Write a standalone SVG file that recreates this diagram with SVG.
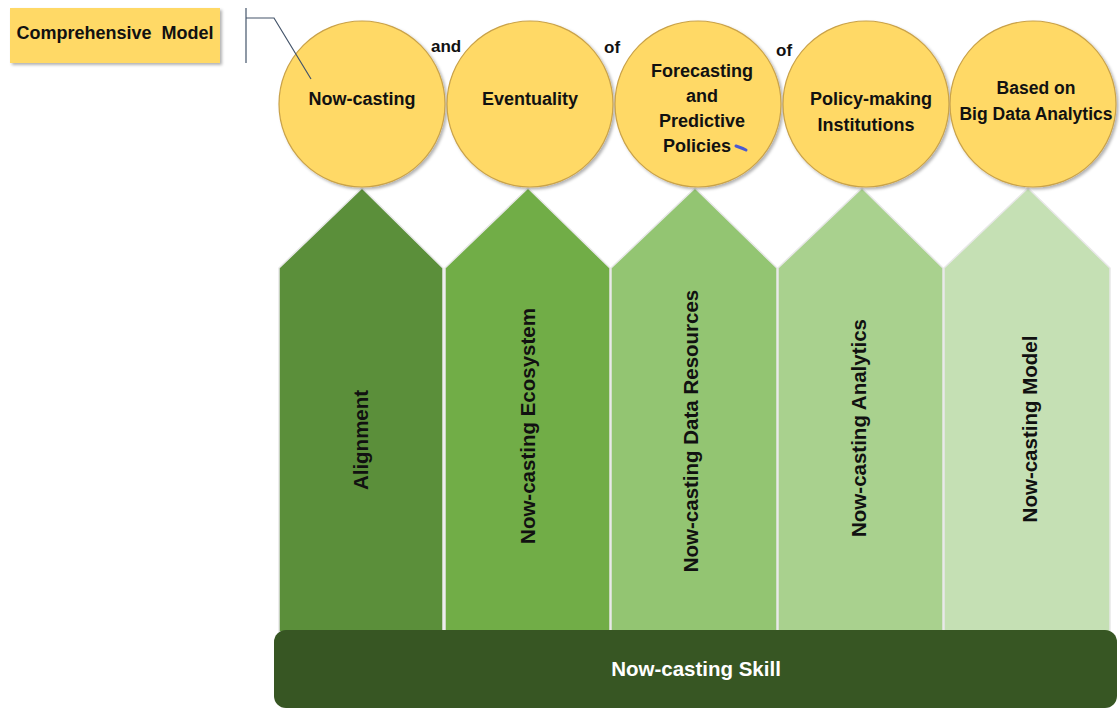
<svg xmlns="http://www.w3.org/2000/svg" width="1120" height="710" viewBox="0 0 1120 710">
  <defs>
    <filter id="shadow" x="-10%" y="-10%" width="130%" height="130%">
      <feDropShadow dx="2" dy="2" stdDeviation="1.5" flood-color="#000" flood-opacity="0.3"/>
    </filter>
    <style>
      .lbl { font-family: "Liberation Sans", Arial, sans-serif; font-weight: bold; fill: #111; text-anchor: middle; }
      .circ { fill: #ffd966; stroke: #c9a24a; stroke-width: 1.2; filter: url(#shadow); }
      .col { stroke: #e8e8e8; stroke-width: 1.5; }
      .vert { font-family: "Liberation Sans", Arial, sans-serif; font-weight: bold; font-size: 20.5px; fill: #111; text-anchor: middle; }
      .link { font-family: "Liberation Sans", Arial, sans-serif; font-weight: bold; font-size: 17px; fill: #111; }
    </style>
  </defs>
  <rect width="1120" height="710" fill="#fff"/>

  <!-- title box -->
  <g id="title">
    <rect x="10" y="8" width="210" height="55" fill="#ffd966" filter="url(#shadow)"/>
    <text class="lbl" x="115" y="39" font-size="18" style="white-space:pre">Comprehensive  Model</text>
  </g>

  <!-- pillars -->
  <g id="pillar-1">
    <polygon class="col" points="279,268 362,188 443,268 443,632 279,632" fill="#5b8f3a"/>
    <text class="vert" transform="translate(368,440) rotate(-90)">Alignment</text>
  </g>
  <g id="pillar-2">
    <polygon class="col" points="445,268 528,188 610,268 610,632 445,632" fill="#71ad47"/>
    <text class="vert" transform="translate(535,426) rotate(-90)">Now-casting Ecosystem</text>
  </g>
  <g id="pillar-3">
    <polygon class="col" points="611,268 695,188 777,268 777,632 611,632" fill="#93c572"/>
    <text class="vert" transform="translate(698,431) rotate(-90)">Now-casting Data Resources</text>
  </g>
  <g id="pillar-4">
    <polygon class="col" points="778,268 862,188 943,268 943,632 778,632" fill="#a9d18e"/>
    <text class="vert" transform="translate(866,428) rotate(-90)">Now-casting Analytics</text>
  </g>
  <g id="pillar-5">
    <polygon class="col" points="944,268 1028,188 1110,268 1110,632 944,632" fill="#c5e0b4"/>
    <text class="vert" transform="translate(1037,429) rotate(-90)">Now-casting Model</text>
  </g>

  <!-- base bar -->
  <g id="base">
    <rect x="274" y="630" width="843" height="78" rx="12" fill="#375623"/>
    <text x="696" y="676" font-family="Liberation Sans, Arial, sans-serif" font-size="20.5" font-weight="bold" fill="#fff" text-anchor="middle">Now-casting Skill</text>
  </g>

  <!-- circles -->
  <g id="circle-1">
    <circle class="circ" cx="362" cy="104" r="83"/>
    <text class="lbl" x="362" y="105" font-size="18">Now-casting</text>
  </g>
  <g id="circle-2">
    <circle class="circ" cx="530" cy="104" r="83"/>
    <text class="lbl" x="530" y="105" font-size="18">Eventuality</text>
  </g>
  <g id="circle-3">
    <circle class="circ" cx="698" cy="104" r="83"/>
    <text class="lbl" font-size="18"><tspan x="702" y="77">Forecasting</tspan><tspan x="702" y="102">and</tspan><tspan x="702" y="127">Predictive</tspan><tspan x="697" y="152">Policies</tspan></text>
    <path d="M736,146 Q742,148 746,150" stroke="#4a5ad0" stroke-width="3" stroke-linecap="round" fill="none"/>
  </g>
  <g id="circle-4">
    <circle class="circ" cx="866" cy="104" r="83"/>
    <text class="lbl" font-size="18"><tspan x="871" y="105">Policy-making</tspan><tspan x="866" y="131">Institutions</tspan></text>
  </g>
  <g id="circle-5">
    <circle class="circ" cx="1033" cy="104" r="83"/>
    <text class="lbl" font-size="17.5"><tspan x="1036" y="94">Based on</tspan><tspan x="1036" y="120">Big Data Analytics</tspan></text>
  </g>

  <!-- callout bracket -->
  <g id="connectors" fill="none" stroke="#44546a" stroke-width="1.2">
    <path d="M246,8 V63"/>
    <path d="M246,18 H274 L311,79"/>
  </g>

  <!-- linking words -->
  <g id="links">
    <text class="link" x="431" y="52">and</text>
    <text class="link" x="604" y="53">of</text>
    <text class="link" x="776" y="56">of</text>
  </g>
</svg>
